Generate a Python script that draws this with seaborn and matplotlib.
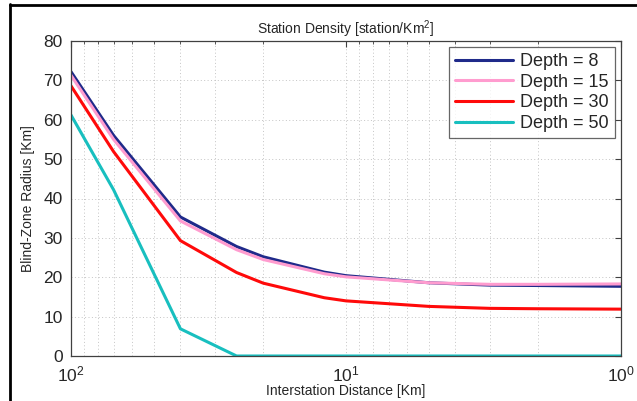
import numpy as np
import pandas as pd
import matplotlib
matplotlib.use("Agg")
import matplotlib.pyplot as plt
from matplotlib.lines import Line2D
from matplotlib.ticker import LogLocator, FixedLocator, NullFormatter
import seaborn as sns

# Interstation distance [Km] at which the blind-zone radius was evaluated
distance = [100, 70, 40, 25, 20, 12, 10, 5, 3, 2, 1]

# Blind-zone radius [Km] for each hypocentral depth
radius_depth_8 = [72.2, 56.0, 35.3, 27.8, 25.2, 21.3, 20.4, 18.6, 18.0, 17.9, 17.7]
radius_depth_15 = [71.3, 55.0, 34.3, 27.0, 24.5, 20.9, 20.1, 18.6, 18.2, 18.2, 18.3]
radius_depth_30 = [68.6, 51.9, 29.3, 21.2, 18.5, 14.8, 14.0, 12.6, 12.1, 12.0, 11.9]
radius_depth_50 = [61.2, 42.2, 6.9, 0, 0, 0, 0, 0, 0, 0, 0]

series_labels = ["Depth = 8", "Depth = 15", "Depth = 30", "Depth = 50"]
series_values = [radius_depth_8, radius_depth_15, radius_depth_30, radius_depth_50]
series_colors = ["#1f2a8a", "#ff9ccf", "#ff0a0a", "#18bfbf"]

y_ticks = [0, 10, 20, 30, 40, 50, 60, 70, 80]
x_major_ticks = [100, 10, 1]
x_tick_labels = ["$10^{2}$", "$10^{1}$", "$10^{0}$"]

rows = []
for label, vals in zip(series_labels, series_values):
    for d, r in zip(distance, vals):
        rows.append({"distance": d, "radius": r, "series": label})
df = pd.DataFrame(rows)

sns.set_style("white")
plt.rcParams["font.family"] = ["Liberation Sans", "DejaVu Sans"]
plt.rcParams["mathtext.fontset"] = "custom"
plt.rcParams["mathtext.rm"] = "Liberation Sans"
plt.rcParams["mathtext.it"] = "Liberation Sans"
plt.rcParams["mathtext.bf"] = "Liberation Sans:bold"

fig = plt.figure(figsize=(6.37, 4.01), dpi=100)
ax = fig.add_axes([71 / 637, 45 / 401, 550 / 637, 315 / 401])

sns.lineplot(
    data=df, x="distance", y="radius", hue="series",
    hue_order=series_labels, palette=series_colors,
    linewidth=2.2, ax=ax, estimator=None, sort=False,
)

ax.set_xscale("log")
ax.set_xlim(100, 1)
ax.set_ylim(0, 80)

ax.xaxis.set_major_locator(FixedLocator(x_major_ticks))
ax.set_xticklabels(x_tick_labels)
ax.xaxis.set_minor_locator(LogLocator(base=10, subs=np.arange(2, 10)))
ax.xaxis.set_minor_formatter(NullFormatter())
ax.set_yticks(y_ticks)

ax.tick_params(axis="both", which="both", direction="in", top=True, right=True,
               color="#404040", labelsize=12.5)
ax.tick_params(axis="both", which="major", length=4)
ax.tick_params(axis="x", which="minor", length=2.5)
ax.tick_params(axis="x", which="major", pad=6)
ax.tick_params(axis="y", which="major", pad=6)

ax.grid(True, which="both", linestyle=(0, (1, 2.5)), color="#c4c4c4", linewidth=0.7)
ax.set_axisbelow(True)

for sp in ax.spines.values():
    sp.set_color("#404040")
    sp.set_linewidth(0.9)

ax.set_xlabel("Interstation Distance [Km]", fontsize=10, labelpad=0)
ax.set_ylabel("Blind-Zone Radius [Km]", fontsize=10, labelpad=6)
ax.set_title("Station Density [station/Km$^{2}$]", fontsize=10, pad=5)

leg = ax.legend(loc="upper right", bbox_to_anchor=(0.989, 0.982), fontsize=13,
                frameon=True, fancybox=False, edgecolor="#404040",
                handlelength=3.2, handletextpad=0.4, borderpad=0.35,
                labelspacing=0.2, borderaxespad=0)
leg.get_frame().set_linewidth(0.9)
for h in leg.get_lines():
    h.set_linewidth(2.2)

# Black frame along the left and top edges of the figure
fig.add_artist(Line2D([10 / 637, 10 / 637], [0, 1 - 4 / 401], transform=fig.transFigure,
                      color="black", linewidth=2))
fig.add_artist(Line2D([10 / 637, 1], [1 - 5 / 401, 1 - 5 / 401], transform=fig.transFigure,
                      color="black", linewidth=2))

fig.savefig("out.png", dpi=100)
